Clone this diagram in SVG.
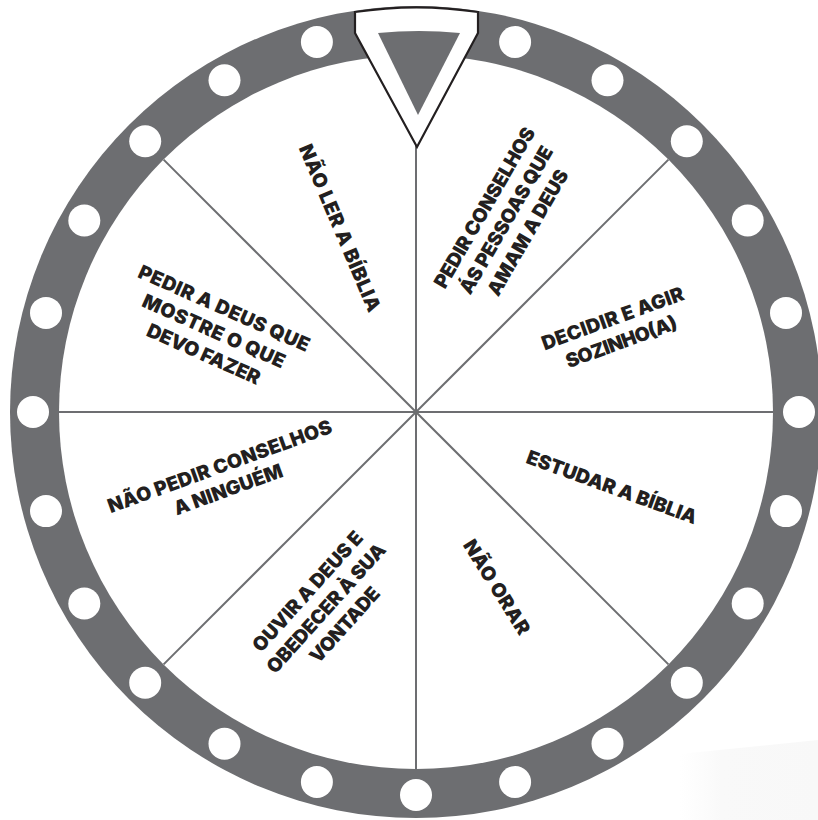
<svg xmlns="http://www.w3.org/2000/svg" width="818" height="820" viewBox="0 0 818 820">
  <defs>
    <linearGradient id="wash" x1="0" y1="0" x2="1" y2="0">
      <stop offset="0" stop-color="#fafafa" stop-opacity="0"/>
      <stop offset="0.3" stop-color="#f9f9f9" stop-opacity="1"/>
      <stop offset="1" stop-color="#f8f8f8" stop-opacity="1"/>
    </linearGradient>
  </defs>
  <style>
    .ring { fill: #6d6e71; }
    .face { fill: #ffffff; }
    .dot { fill: #ffffff; }
    .spoke { stroke: #6d6e71; stroke-width: 2; fill: none; }
    .lbl { font-family: "Inter", "Lato", "Liberation Sans", sans-serif; font-weight: 900; font-size: 19.5px; fill: #231f20; text-anchor: middle; }
    .ptr { fill: #ffffff; stroke: #231f20; stroke-width: 2.2; stroke-linejoin: miter; }
    .ptr-in { fill: #6d6e71; }
  </style>
  <rect width="818" height="820" fill="#ffffff"/>
  <polygon points="680,754 818,740 818,820 680,820" fill="url(#wash)"/>

  <g id="wheel">
    <circle class="ring" cx="416" cy="412" r="406"/>
    <circle class="face" cx="416" cy="412" r="357"/>
    <g id="dots">
      <circle class="dot" cx="515.1" cy="42.0" r="16"/>
      <circle class="dot" cx="607.5" cy="80.3" r="16"/>
      <circle class="dot" cx="686.8" cy="141.2" r="16"/>
      <circle class="dot" cx="747.7" cy="220.5" r="16"/>
      <circle class="dot" cx="786.0" cy="312.9" r="16"/>
      <circle class="dot" cx="799.0" cy="412.0" r="16"/>
      <circle class="dot" cx="786.0" cy="511.1" r="16"/>
      <circle class="dot" cx="747.7" cy="603.5" r="16"/>
      <circle class="dot" cx="686.8" cy="682.8" r="16"/>
      <circle class="dot" cx="607.5" cy="743.7" r="16"/>
      <circle class="dot" cx="515.1" cy="782.0" r="16"/>
      <circle class="dot" cx="416.0" cy="795.0" r="16"/>
      <circle class="dot" cx="316.9" cy="782.0" r="16"/>
      <circle class="dot" cx="224.5" cy="743.7" r="16"/>
      <circle class="dot" cx="145.2" cy="682.8" r="16"/>
      <circle class="dot" cx="84.3" cy="603.5" r="16"/>
      <circle class="dot" cx="46.0" cy="511.1" r="16"/>
      <circle class="dot" cx="33.0" cy="412.0" r="16"/>
      <circle class="dot" cx="46.0" cy="312.9" r="16"/>
      <circle class="dot" cx="84.3" cy="220.5" r="16"/>
      <circle class="dot" cx="145.2" cy="141.2" r="16"/>
      <circle class="dot" cx="224.5" cy="80.3" r="16"/>
      <circle class="dot" cx="316.9" cy="42.0" r="16"/>
    </g>
  </g>

  <g id="connectors">
    <line class="spoke" x1="416" y1="55" x2="416" y2="769"/>
    <line class="spoke" x1="59" y1="412" x2="773" y2="412"/>
    <line class="spoke" x1="163.6" y1="159.6" x2="668.4" y2="664.4"/>
    <line class="spoke" x1="668.4" y1="159.6" x2="163.6" y2="664.4"/>
  </g>

  <g id="pointer">
    <path class="ptr" d="M355,12 L355,33 L417,147 L478,33 L478,12 A406,406 0 0 0 355,12 Z"/>
    <path class="ptr-in" d="M378,33 L418,115 L460,33 A406,406 0 0 0 378,33 Z"/>
  </g>

  <g id="node-nao-ler" transform="translate(340,228) rotate(67)">
    <text class="lbl" y="7" textLength="180" lengthAdjust="spacing">NÃO LER A BÍBLIA</text>
  </g>
  <g id="node-pedir-conselhos" transform="translate(506,220) rotate(-60)">
    <text class="lbl" y="-18" textLength="182" lengthAdjust="spacing">PEDIR CONSELHOS</text>
    <text class="lbl" y="7" textLength="167" lengthAdjust="spacing">ÁS PESSOAS QUE</text>
    <text class="lbl" y="32" textLength="142" lengthAdjust="spacing">AMAM A DEUS</text>
  </g>
  <g id="node-decidir" transform="translate(617,330) rotate(-20)">
    <text class="lbl" y="-5.5" textLength="150" lengthAdjust="spacing">DECIDIR E AGIR</text>
    <text class="lbl" y="19.5" textLength="117" lengthAdjust="spacing">SOZINHO(A)</text>
  </g>
  <g id="node-estudar" transform="translate(612,487) rotate(20)">
    <text class="lbl" y="7" textLength="180" lengthAdjust="spacing">ESTUDAR A BÍBLIA</text>
  </g>
  <g id="node-nao-orar" transform="translate(497,587) rotate(58)">
    <text class="lbl" y="7" textLength="108" lengthAdjust="spacing">NÃO ORAR</text>
  </g>
  <g id="node-ouvir" transform="translate(326,608) rotate(-48)">
    <text class="lbl" y="-18" textLength="154" lengthAdjust="spacing">OUVIR A DEUS E</text>
    <text class="lbl" y="7" textLength="167" lengthAdjust="spacing">OBEDECER À SUA</text>
    <text class="lbl" y="32" textLength="94" lengthAdjust="spacing">VONTADE</text>
  </g>
  <g id="node-nao-pedir" transform="translate(224,478) rotate(-20)">
    <text class="lbl" y="-5.5" textLength="237" lengthAdjust="spacing">NÃO PEDIR CONSELHOS</text>
    <text class="lbl" y="19">A NINGUÉM</text>
  </g>
  <g id="node-pedir-deus" transform="translate(214,331) rotate(24)">
    <text class="lbl" y="-18" textLength="185" lengthAdjust="spacing">PEDIR A DEUS QUE</text>
    <text class="lbl" y="7" textLength="154" lengthAdjust="spacing">MOSTRE O QUE</text>
    <text class="lbl" y="32" textLength="122" lengthAdjust="spacing">DEVO FAZER</text>
  </g>
</svg>
